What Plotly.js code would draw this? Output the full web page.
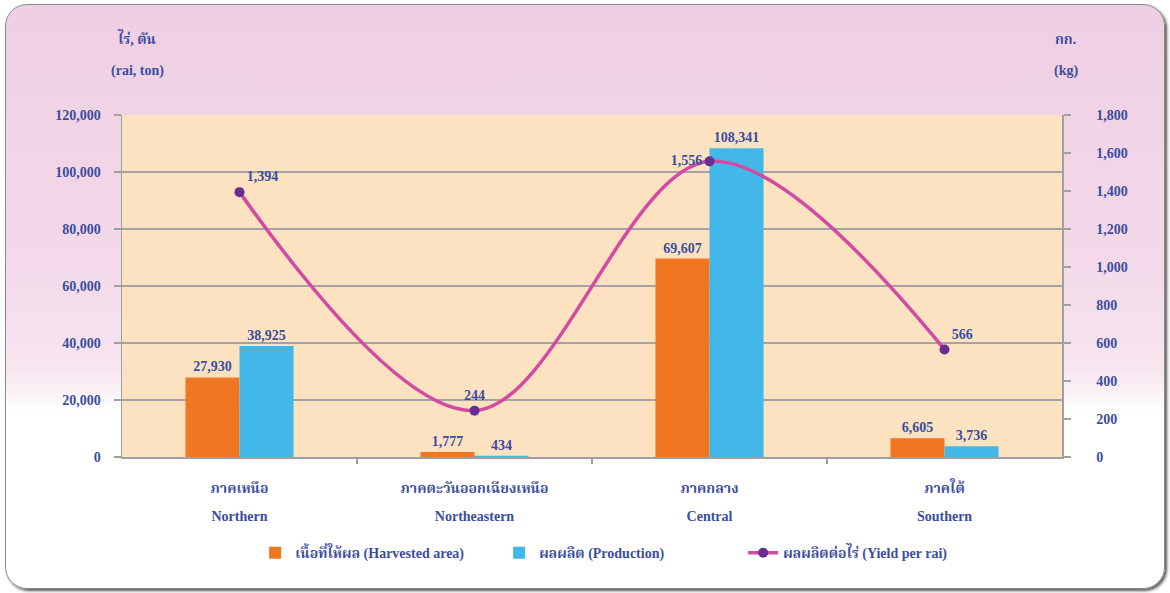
<!DOCTYPE html>
<html>
<head>
<meta charset="utf-8">
<script src="https://cdn.plot.ly/plotly-3.0.1.min.js"></script>
<style>
  html, body { margin: 0; padding: 0; background: #ffffff; }
  #frame {
    position: absolute; left: 5px; top: 4px; width: 1158px; height: 583px;
    border-radius: 22px; border: 1px solid #8a8a8a;
    box-shadow: 2px 2px 3px #5a5a5a;
    background: linear-gradient(to bottom, #efcfe3 0%, #f3d9e9 45%, #f7e6f0 63%, #fbf4f8 67%, #ffffff 69.5%, #ffffff 100%);
  }
  #chart { position: absolute; left: 0; top: 0; width: 1170px; height: 593px; }
</style>
</head>
<body>
<div id="frame"></div>
<div id="chart"></div>
<script>
// ---- data ----
const regionsThai = ["ภาคเหนือ", "ภาคตะวันออกเฉียงเหนือ", "ภาคกลาง", "ภาคใต้"];
const regionsEng = ["Northern", "Northeastern", "Central", "Southern"];
const harvestedArea = [27930, 1777, 69607, 6605];
const production = [38925, 434, 108341, 3736];
const yieldPerRai = [1394, 244, 1556, 566];
const seriesNames = ["เนื้อที่ให้ผล (Harvested area)", "ผลผลิต (Production)", "ผลผลิตต่อไร่ (Yield per rai)"];

const txtColor = "#3a4d9e";
const fam = "'Liberation Serif', 'Times New Roman', 'Noto Serif Thai', 'Noto Sans Thai', serif";
const labelFont = {family: fam, size: 14, color: txtColor, weight: "bold"};

const idx = regionsEng.map((_, i) => i);
const fmt = v => v.toLocaleString("en-US");

const traces = [
  {
    type: "bar", name: seriesNames[0], x: idx, y: harvestedArea,
    marker: {color: "#f07622"},
    text: harvestedArea.map(fmt), textposition: "outside", cliponaxis: false,
    textfont: labelFont, hoverinfo: "y"
  },
  {
    type: "bar", name: seriesNames[1], x: idx, y: production,
    marker: {color: "#41b8e8"},
    text: production.map(fmt), textposition: "outside", cliponaxis: false,
    textfont: labelFont, hoverinfo: "y"
  },
  {
    type: "scatter", mode: "lines+markers+text", name: seriesNames[2], x: idx, y: yieldPerRai,
    yaxis: "y2",
    line: {color: "#d24aa2", width: 3.5, shape: "spline", smoothing: 1},
    marker: {color: "#6a2d92", size: 10},
    text: yieldPerRai.map(fmt),
    textposition: ["top right", "top center", "middle left", "top right"],
    textfont: labelFont, cliponaxis: false
  }
];

const layout = {
  width: 1170, height: 593,
  paper_bgcolor: "rgba(0,0,0,0)",
  plot_bgcolor: "#fde2c2",
  margin: {l: 122, r: 108, t: 115, b: 136},
  barmode: "group", bargap: 0.54, bargroupgap: 0,
  showlegend: true,
  legend: {
    orientation: "h", x: 0.531, xanchor: "center", y: -0.281, yanchor: "middle",
    font: {family: fam, size: 14, color: txtColor, weight: "bold"},
    itemwidth: 30, bgcolor: "rgba(0,0,0,0)", tracegroupgap: 0,
    entrywidthmode: "pixels", entrywidth: 199,
    traceorder: "normal"
  },
  xaxis: {
    type: "linear", range: [-0.5, 3.5],
    tickvals: idx, ticktext: regionsThai,
    showgrid: false, zeroline: false,
    showline: true, linecolor: "#a0a0a0", linewidth: 1.5,
    ticks: "", tickfont: labelFont, ticklabelstandoff: 18
  },
  xaxis2: {
    type: "linear", range: [-0.5, 3.5], overlaying: "x", side: "bottom", anchor: "y",
    tickvals: idx, ticktext: regionsEng,
    showgrid: false, zeroline: false, showline: false,
    ticks: "", tickfont: labelFont, ticklabelstandoff: 49
  },
  xaxis3: {
    type: "linear", range: [-0.5, 3.5], overlaying: "x", side: "bottom", anchor: "y",
    tickvals: [0.5, 1.5, 2.5], ticktext: ["", "", ""],
    showgrid: false, zeroline: false, showline: false,
    ticks: "outside", ticklen: 6, tickcolor: "#a0a0a0", tickwidth: 1.5
  },
  yaxis: {
    range: [0, 120000], dtick: 20000, tickformat: ",d",
    showgrid: true, gridcolor: "#a3a3a3", gridwidth: 1.5,
    zeroline: false, showline: true, linecolor: "#a0a0a0", linewidth: 1.5,
    ticks: "outside", ticklen: 7, tickcolor: "#a0a0a0", tickwidth: 1.5,
    tickfont: labelFont, ticklabelstandoff: 10
  },
  yaxis2: {
    range: [0, 1800], dtick: 200, tickformat: ",d",
    overlaying: "y", side: "right",
    showgrid: false, zeroline: false, showline: true, linecolor: "#a0a0a0", linewidth: 1.5,
    ticks: "outside", ticklen: 7, tickcolor: "#a0a0a0", tickwidth: 1.5,
    tickfont: labelFont, ticklabelstandoff: 23
  },
  annotations: [
    {text: "ไร่, ตัน", xref: "paper", yref: "paper", x: 0.016, y: 1.225, xanchor: "center", yanchor: "middle", showarrow: false, font: labelFont},
    {text: "(rai, ton)", xref: "paper", yref: "paper", x: 0.016, y: 1.13, xanchor: "center", yanchor: "middle", showarrow: false, font: labelFont},
    {text: "กก.", xref: "paper", yref: "paper", x: 1.004, y: 1.22, xanchor: "center", yanchor: "middle", showarrow: false, font: labelFont},
    {text: "(kg)", xref: "paper", yref: "paper", x: 1.004, y: 1.13, xanchor: "center", yanchor: "middle", showarrow: false, font: labelFont}
  ]
};

// invisible helper traces to activate the label axes xaxis2 / xaxis3
traces.push({type: "scatter", x: [0], y: [0], xaxis: "x2", mode: "none", showlegend: false, hoverinfo: "skip"});
traces.push({type: "scatter", x: [0], y: [0], xaxis: "x3", mode: "none", showlegend: false, hoverinfo: "skip"});

Plotly.newPlot("chart", traces, layout, {displayModeBar: false, staticPlot: true});
</script>
</body>
</html>
